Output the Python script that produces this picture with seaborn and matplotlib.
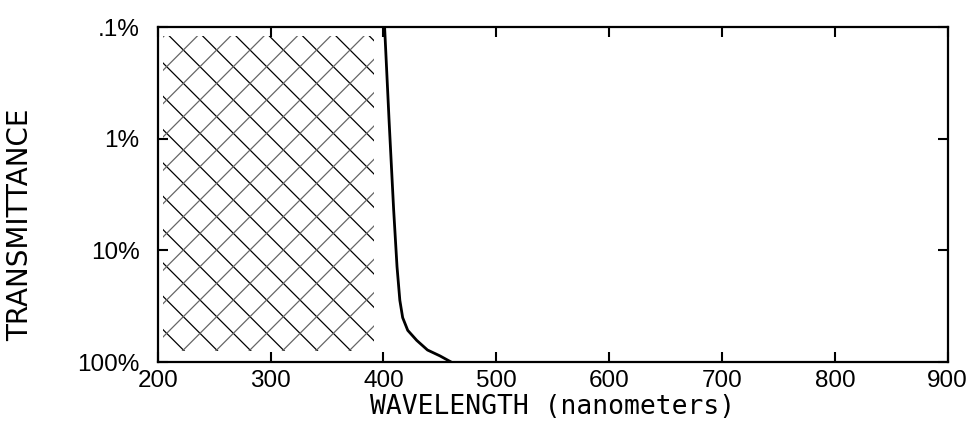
import seaborn as sns
import matplotlib.pyplot as plt
import pandas as pd

# curva de corte del filtro (transmitancia en %)
wavelength = [401, 405, 409, 412, 414.5, 417, 421.5, 429.5, 439, 450, 460]
transmittance = [0.1, 0.7, 4.3, 14, 28, 40, 52, 64, 78, 88, 100]

# zona rayada (region bloqueada)
hatch_x = [205, 392]
hatch_y = [0.12, 80]

x_ticks = [200, 300, 400, 500, 600, 700, 800, 900]
y_ticks = [0.1, 1, 10, 100]
y_labels = ['.1%', '1%', '10%', '100%']

df = pd.DataFrame({'wl': wavelength, 'T': transmittance})

sns.set_style('ticks')
plt.rcParams['font.family'] = ['Liberation Sans', 'DejaVu Sans']
plt.rcParams['hatch.linewidth'] = 0.9
plt.rcParams['text.color'] = 'black'
plt.rcParams['axes.labelcolor'] = 'black'
plt.rcParams['xtick.color'] = 'black'
plt.rcParams['ytick.color'] = 'black'
plt.rcParams['axes.edgecolor'] = 'black'

fig = plt.figure(figsize=(9.74, 4.3), dpi=100)
ax = fig.add_axes([0.162, 0.158, 0.811, 0.779])

# rayado principal y rayado cruzado mas suave
ax.fill_between(hatch_x, hatch_y[0], hatch_y[1], facecolor='none',
                edgecolor='black', hatch='\\', linewidth=0)
ax.fill_between(hatch_x, hatch_y[0], hatch_y[1], facecolor='none',
                edgecolor='#666666', hatch='/', linewidth=0)

sns.lineplot(data=df, x='wl', y='T', ax=ax, color='black', linewidth=2,
             sort=False)

ax.set_yscale('log')
ax.set_xlim(200, 900)
ax.set_ylim(100, 0.1)
ax.set_xticks(x_ticks)
ax.set_yticks(y_ticks)
ax.set_yticklabels(y_labels)
ax.minorticks_off()

ax.tick_params(direction='in', length=7, width=1.5, top=True, right=True,
               labelsize=17.5)
ax.tick_params(axis='x', pad=6)
ax.tick_params(axis='y', pad=13)
for s in ax.spines.values():
    s.set_linewidth(1.6)

ax.set_xlabel('WAVELENGTH (nanometers)', family='DejaVu Sans Mono',
              fontsize=19, labelpad=1)
ax.set_ylabel('TRANSMITTANCE', family='DejaVu Sans', fontsize=20)
ax.yaxis.set_label_coords(-0.156, 0.41)

fig.savefig('out.png', dpi=100)
